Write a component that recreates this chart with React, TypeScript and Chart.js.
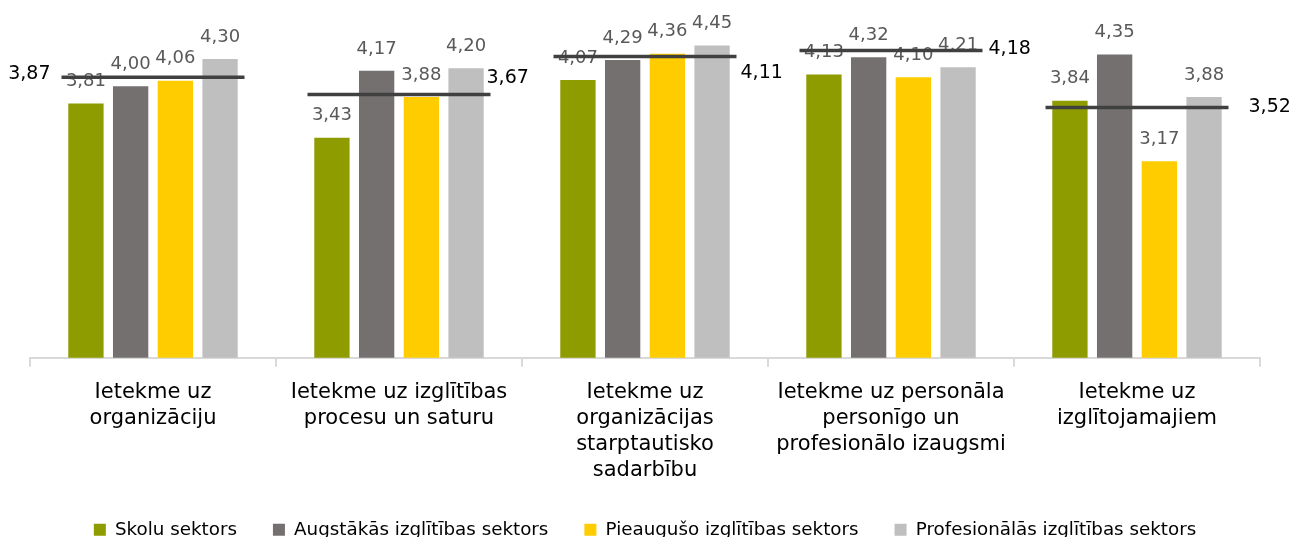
import React, { useEffect, useRef } from "react";
import { Chart, registerables } from "chart.js";

Chart.register(...registerables);

const categories: string[][] = [
  ["Ietekme uz", "organizāciju"],
  ["Ietekme uz izglītības", "procesu un saturu"],
  ["Ietekme uz", "organizācijas", "starptautisko", "sadarbību"],
  ["Ietekme uz personāla", "personīgo un", "profesionālo izaugsmi"],
  ["Ietekme uz", "izglītojamajiem"],
];

const seriesNames = [
  "Skolu sektors",
  "Augstākās izglītības sektors",
  "Pieaugušo izglītības sektors",
  "Profesionālās izglītības sektors",
];

const skolu = [3.81, 3.43, 4.07, 4.13, 3.84];
const augstakas = [4.0, 4.17, 4.29, 4.32, 4.35];
const pieauguso = [4.06, 3.88, 4.36, 4.1, 3.17];
const profesionalas = [4.3, 4.2, 4.45, 4.21, 3.88];
const averages = [3.87, 3.67, 4.11, 4.18, 3.52];

const seriesColors = ["#8e9c00", "#757070", "#ffcc00", "#bfbfbf"];

// label placement for the average values (style only)
const avgLabelSide = ["left", "right", "right", "right", "right"];
const avgLabelDx = [11, -4, 4, 6, 20];
const avgLabelDy = [-3, -16, 17, -1, 0];

const FONT = "'DejaVu Sans', Verdana, sans-serif";
const LINE_HALF = 91.5;

const fmt = (v: number) => v.toFixed(2).replace(".", ",");

const labelsPlugin = {
  id: "customLabels",
  beforeDatasetDraw(chart: any, args: any) {
    if (args.index !== 4) return;
    const ctx = chart.ctx;
    ctx.save();
    ctx.font = `18px ${FONT}`;
    ctx.fillStyle = "#595959";
    ctx.textAlign = "center";
    ctx.textBaseline = "middle";
    for (let d = 0; d < 4; d++) {
      const meta = chart.getDatasetMeta(d);
      const data = chart.data.datasets[d].data as number[];
      meta.data.forEach((el: any, i: number) => {
        ctx.fillText(fmt(data[i]), el.x, el.y - 22);
      });
    }
    ctx.restore();
  },
  afterDatasetsDraw(chart: any) {
    const ctx = chart.ctx;
    const meta = chart.getDatasetMeta(4);
    const data = chart.data.datasets[4].data as number[];
    ctx.save();
    ctx.font = `19px ${FONT}`;
    ctx.fillStyle = "#000000";
    ctx.textBaseline = "middle";
    meta.data.forEach((el: any, i: number) => {
      if (avgLabelSide[i] === "left") {
        ctx.textAlign = "right";
        ctx.fillText(fmt(data[i]), el.x - LINE_HALF - avgLabelDx[i], el.y + avgLabelDy[i]);
      } else {
        ctx.textAlign = "left";
        ctx.fillText(fmt(data[i]), el.x + LINE_HALF + avgLabelDx[i], el.y + avgLabelDy[i]);
      }
    });
    ctx.restore();
  },
};

export default function App() {
  const canvasRef = useRef<HTMLCanvasElement | null>(null);

  useEffect(() => {
    if (!canvasRef.current) return;
    const seriesData = [skolu, augstakas, pieauguso, profesionalas];
    const chart = new Chart(canvasRef.current, {
      type: "bar",
      data: {
        labels: categories as any,
        datasets: [
          ...seriesData.map((d, i) => ({
            type: "bar" as const,
            label: seriesNames[i],
            data: d,
            backgroundColor: seriesColors[i],
            borderWidth: 0,
            yAxisID: "y",
            order: 1,
            categoryPercentage: 0.727,
            barPercentage: 0.79,
          })),
          {
            type: "line" as const,
            label: "Vidēji",
            data: averages,
            yAxisID: "y2",
            showLine: false,
            clip: false,
            pointStyle: "line",
            pointRadius: LINE_HALF,
            pointHoverRadius: LINE_HALF,
            pointBorderWidth: 3.5,
            pointHoverBorderWidth: 3.5,
            pointBorderColor: "#404040",
            pointBackgroundColor: "#404040",
            order: 0,
          } as any,
        ],
      },
      options: {
        animation: false,
        responsive: true,
        maintainAspectRatio: false,
        events: [],
        layout: { autoPadding: false, padding: { top: 0, left: 30, right: 30, bottom: 0 } },
        plugins: {
          tooltip: { enabled: false },
          legend: {
            position: "bottom",
            labels: {
              font: { family: FONT, size: 18.3 },
              color: "#000000",
              boxWidth: 12,
              boxHeight: 12,
              padding: 36,
              filter: (item: any) => item.datasetIndex < 4,
            },
          },
        },
        scales: {
          x: {
            offset: true,
            grid: {
              offset: true,
              display: true,
              drawOnChartArea: false,
              drawTicks: true,
              tickLength: 9,
              color: "#d9d9d9",
              lineWidth: 2,
            },
            border: { display: true, color: "#d9d9d9", width: 2 },
            ticks: {
              autoSkip: false,
              maxRotation: 0,
              minRotation: 0,
              padding: 13,
              color: "#000000",
              font: { family: FONT, size: 21, lineHeight: 26 / 21 },
            },
            afterFit: (scale: any) => {
              scale.height = 127;
            },
          },
          y: {
            display: false,
            min: 1,
            max: 4.953,
          },
          y2: {
            display: false,
            min: 0.622,
            max: 4.765,
          },
        },
      },
      plugins: [labelsPlugin],
    });
    return () => chart.destroy();
  }, []);

  return (
    <div
      style={{
        position: "fixed",
        left: 0,
        top: 0,
        width: 1290,
        height: 537,
        overflow: "hidden",
        background: "#ffffff",
      }}
    >
      <div style={{ position: "relative", width: 1290, height: 549 }}>
        <canvas ref={canvasRef} />
      </div>
    </div>
  );
}
